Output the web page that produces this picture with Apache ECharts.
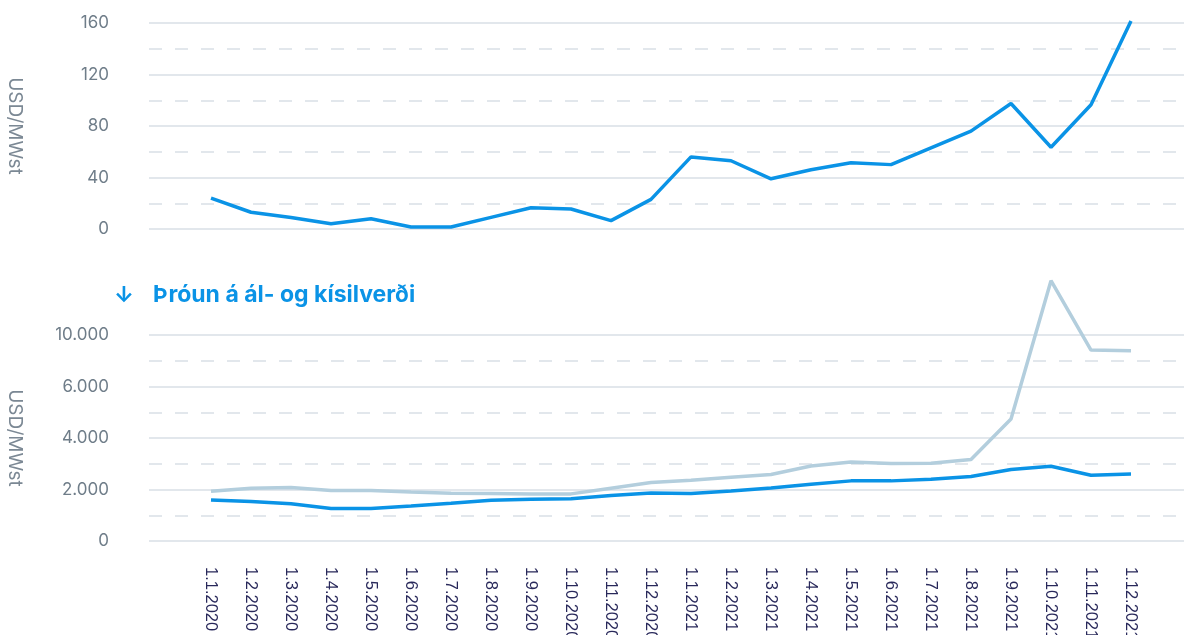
<!DOCTYPE html>
<html>
<head>
<meta charset="utf-8">
<script src="https://cdn.jsdelivr.net/npm/echarts@6/dist/echarts.min.js"></script>
<style>
  html, body { margin: 0; padding: 0; background: #fff; }
  #main { width: 1184px; height: 635px; }
</style>
</head>
<body>
<div id="main"></div>
<script>
(function () {
  // months on the x axis
  var months = ['1.1.2020', '1.2.2020', '1.3.2020', '1.4.2020', '1.5.2020', '1.6.2020',
    '1.7.2020', '1.8.2020', '1.9.2020', '1.10.2020', '1.11.2020', '1.12.2020',
    '1.1.2021', '1.2.2021', '1.3.2021', '1.4.2021', '1.5.2021', '1.6.2021',
    '1.7.2021', '1.8.2021', '1.9.2021', '1.10.2021', '1.11.2021', '1.12.2021'];
  // top panel, USD/MWst
  var powerPrice = [24, 13, 9, 4, 8, 1.5, 1.5, 9, 16.5, 15.5, 6.5, 23,
    56, 53, 39, 46, 51.5, 50, 63, 76, 97.5, 63.5, 96.5, 161.5];
  // bottom panel
  var aluminium = [1595, 1530, 1450, 1260, 1260, 1360, 1465, 1580, 1620, 1645, 1765, 1865,
    1845, 1945, 2060, 2205, 2335, 2335, 2400, 2505, 2775, 2905, 2555, 2605];
  var silicon = [1935, 2050, 2075, 1960, 1960, 1905, 1855, 1845, 1830, 1830, 2050, 2270,
    2360, 2475, 2580, 2915, 3070, 3010, 3020, 3165, 4735, 10110, 7415, 7390];
  var topTicks = ['0', '40', '80', '120', '160'];
  var bottomTicks = ['0', '2.000', '4.000', '6.000', '10.000'];
  var chartTitle = 'Þróun á ál- og kísilverði';

  var blue = '#0a93e6';
  var pale = '#b3cedd';
  var gridColor = '#e2e7ec';

  var chartDom = document.getElementById('main');
  var myChart = echarts.init(chartDom);

  function pairs(arr) {
    return arr.map(function (v, i) { return [i, v]; });
  }
  var idx = months.map(function (m, i) { return i; });

  function yAxisFor(gridIndex, max, step, ticks) {
    return {
      gridIndex: gridIndex,
      type: 'value',
      min: 0,
      max: max,
      interval: step,
      name: 'USD/MWst',
      nameLocation: 'middle',
      nameRotate: -90,
      nameGap: 125,
      nameTextStyle: { color: '#7b8894', fontSize: 19, fontFamily: 'Inter' },
      axisLine: { show: false },
      axisTick: { show: false },
      axisLabel: {
        color: '#6f7d89',
        fontSize: 17,
        fontFamily: 'Inter',
        margin: 40,
        formatter: function (v) { return ticks[Math.round(v / step)]; }
      },
      splitLine: { lineStyle: { color: gridColor, width: 2 } },
      minorTick: { show: false, splitNumber: 2 },
      minorSplitLine: { show: true, lineStyle: { color: gridColor, width: 2, type: [13, 13] } }
    };
  }

  function xAxisFor(gridIndex, showLabels) {
    return {
      gridIndex: gridIndex,
      type: 'value',
      min: -1.55,
      max: 24.325,
      axisLine: { show: false },
      axisTick: { show: false },
      splitLine: { show: false },
      axisLabel: {
        show: showLabels,
        customValues: idx,
        rotate: -90,
        margin: 26,
        padding: [10, 0, 0, 0],
        color: '#28285a',
        fontSize: 16.5,
        fontFamily: 'Liberation Sans',
        formatter: function (v) { return months[Math.round(v)] || ''; }
      }
    };
  }

  var option = {
    animation: false,
    title: [
      { text: '↓', left: 109, top: 279, textStyle: { color: blue, fontSize: 22, fontWeight: 'bold', fontFamily: 'Inter' } },
      { text: chartTitle, left: 148, top: 279, textStyle: { color: blue, fontSize: 23, fontWeight: 'bold', fontFamily: 'Inter' } }
    ],
    grid: [
      { left: 149, right: 0, top: 23, bottom: 406, outerBoundsMode: 'none' },
      { left: 149, right: 0, top: 335, bottom: 94, outerBoundsMode: 'none' }
    ],
    xAxis: [xAxisFor(0, false), xAxisFor(1, true)],
    yAxis: [yAxisFor(0, 160, 40, topTicks), yAxisFor(1, 8000, 2000, bottomTicks)],
    series: [
      {
        type: 'line', xAxisIndex: 0, yAxisIndex: 0, data: pairs(powerPrice),
        showSymbol: false, clip: false, lineStyle: { color: blue, width: 3.5 }
      },
      {
        type: 'line', xAxisIndex: 1, yAxisIndex: 1, data: pairs(silicon),
        showSymbol: false, clip: false, lineStyle: { color: pale, width: 3.5 }
      },
      {
        type: 'line', xAxisIndex: 1, yAxisIndex: 1, data: pairs(aluminium),
        showSymbol: false, clip: false, lineStyle: { color: blue, width: 3.5 }
      }
    ]
  };

  option && myChart.setOption(option);

  window.addEventListener('resize', function () {
    myChart.resize();
  });
})();
</script>
</body>
</html>
